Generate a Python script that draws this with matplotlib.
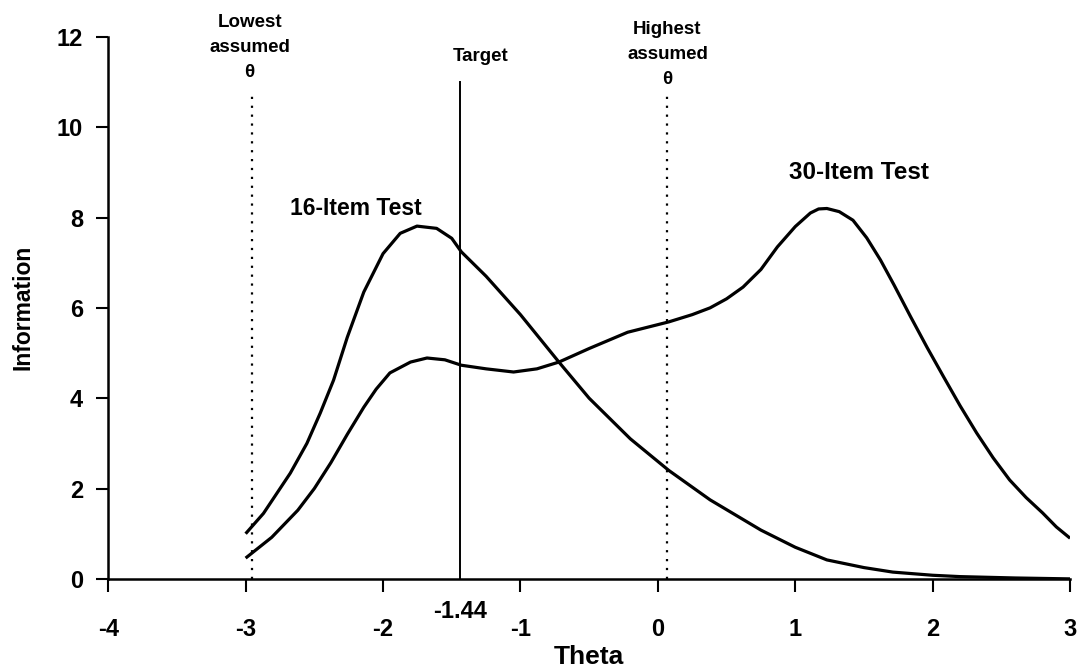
import matplotlib
matplotlib.use('Agg')
from matplotlib import pyplot as plt
import numpy as np

plt.rcParams['font.family'] = ['Liberation Sans', 'DejaVu Sans']
plt.rcParams['font.weight'] = 'bold'
plt.rcParams['axes.unicode_minus'] = False

# 16-item test information curve
theta_16 = [-3.0, -2.87, -2.675, -2.554, -2.457, -2.36, -2.26, -2.14, -2.0, -1.875, -1.753,
            -1.61, -1.5, -1.43, -1.25, -1.0, -0.72, -0.5, -0.2, 0.08, 0.38, 0.75,
            1.0, 1.23, 1.5, 1.71, 2.0, 2.2, 2.6, 3.0]
info_16 = [1.0, 1.45, 2.34, 3.0, 3.67, 4.4, 5.35, 6.35, 7.2, 7.65, 7.81,
           7.76, 7.54, 7.24, 6.7, 5.85, 4.8, 4.0, 3.1, 2.4, 1.75, 1.08,
           0.7, 0.42, 0.25, 0.15, 0.08, 0.05, 0.02, 0.0]

# 30-item test information curve
theta_30 = [-3.0, -2.81, -2.62, -2.5, -2.38, -2.26, -2.14, -2.05, -1.95, -1.8, -1.68,
            -1.55, -1.43, -1.25, -1.05, -0.88, -0.72, -0.5, -0.22, 0.08, 0.25, 0.38,
            0.5, 0.62, 0.75, 0.87, 1.0, 1.11, 1.17, 1.23, 1.32, 1.42, 1.52, 1.62, 1.72,
            1.84, 1.96, 2.08, 2.2, 2.32, 2.44, 2.56, 2.68, 2.8, 2.9, 3.0]
info_30 = [0.46, 0.92, 1.52, 2.0, 2.57, 3.2, 3.8, 4.2, 4.56, 4.8, 4.89,
           4.85, 4.73, 4.65, 4.58, 4.65, 4.8, 5.1, 5.46, 5.69, 5.85, 6.0,
           6.2, 6.46, 6.85, 7.35, 7.8, 8.1, 8.19, 8.2, 8.13, 7.94, 7.55, 7.06, 6.5,
           5.8, 5.12, 4.47, 3.83, 3.23, 2.68, 2.19, 1.8, 1.46, 1.15, 0.9]

lowest_theta = -2.95
target_theta = -1.44
highest_theta = 0.07

fig = plt.figure(figsize=(10.82, 6.7), dpi=100)
ax = fig.add_axes([0.1, 0.136, 0.889, 0.809])

ax.plot(theta_16, info_16, color='black', linewidth=2.3, solid_capstyle='butt')
ax.plot(theta_30, info_30, color='black', linewidth=2.3, solid_capstyle='butt')

# reference lines
ax.plot([lowest_theta, lowest_theta], [0, 10.8], color='black', linewidth=1.6,
        linestyle=(0, (1, 3)))
ax.plot([highest_theta, highest_theta], [0, 10.8], color='black', linewidth=1.6,
        linestyle=(0, (1, 3)))
ax.plot([target_theta, target_theta], [0, 11.0], color='black', linewidth=1.4)

ax.set_xlim(-4, 3)
ax.set_ylim(0, 12)
ax.set_xticks(range(-4, 4))
ax.set_yticks(range(0, 13, 2))
ax.spines['top'].set_visible(False)
ax.spines['right'].set_visible(False)
ax.spines['left'].set_linewidth(1.8)
ax.spines['bottom'].set_linewidth(1.8)
ax.tick_params(axis='both', direction='out', length=9, width=1.5, labelsize=17)
ax.tick_params(axis='x', pad=19)
ax.tick_params(axis='y', pad=9)
for lab in ax.get_xticklabels() + ax.get_yticklabels():
    lab.set_fontweight('bold')

ax.set_xlabel('Theta', fontsize=19, fontweight='bold', labelpad=3)
ax.set_ylabel('Information', fontsize=16.5, fontweight='bold', labelpad=16)

# annotations
ax.text(-2.97, 12.5, 'Lowest\nassumed\nθ', ha='center', va='top', fontsize=13.5,
        fontweight='bold', linespacing=1.6, clip_on=False)
ax.text(-1.29, 11.75, 'Target', ha='center', va='top', fontsize=13.5, fontweight='bold')
ax.text(0.07, 12.35, 'Highest\nassumed\nθ', ha='center', va='top', fontsize=13.5,
        fontweight='bold', linespacing=1.6, clip_on=False)
ax.text(-2.2, 8.2, '16-Item Test', ha='center', va='center', fontsize=16.5, fontweight='bold')
ax.text(1.46, 9.0, '30-Item Test', ha='center', va='center', fontsize=17.5, fontweight='bold')
ax.text(target_theta, -0.72, '-1.44', ha='center', va='center', fontsize=17,
        fontweight='bold', clip_on=False)

fig.savefig('out.png', dpi=100)
